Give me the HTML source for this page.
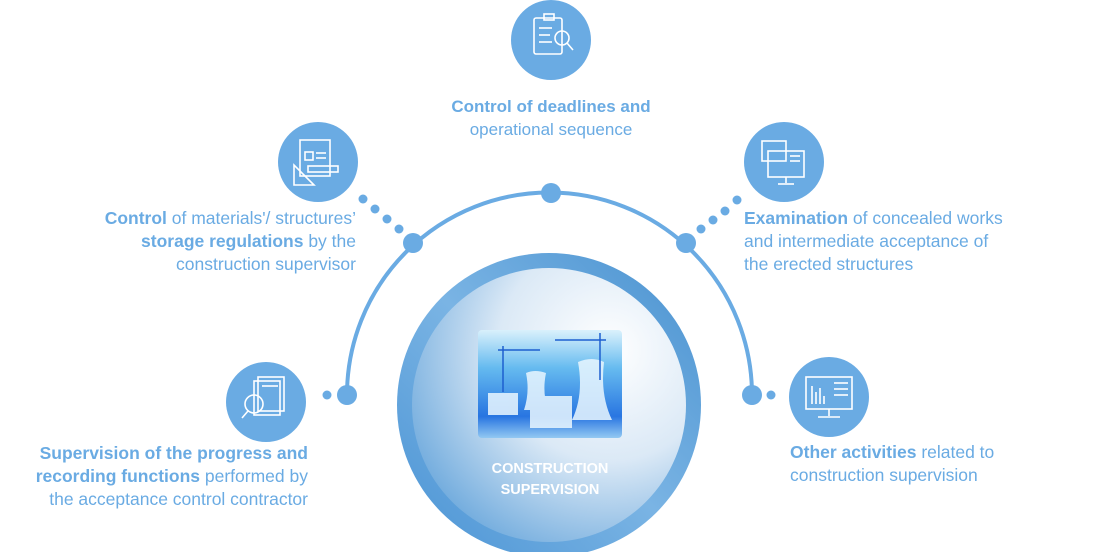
<!DOCTYPE html>
<html><head><meta charset="utf-8"><style>
html,body{margin:0;padding:0;background:#fff;}
body{width:1116px;height:552px;overflow:hidden;position:relative;font-family:"Liberation Sans","DejaVu Sans",sans-serif;}
.t{position:absolute;color:#6aabe3;font-size:17.5px;line-height:23px;}
.t b{font-weight:bold;}
</style></head><body>
<svg width="1116" height="552" style="position:absolute;left:0;top:0">
<defs>
<radialGradient id="cg" cx="0.72" cy="0.3" r="0.9">
<stop offset="0" stop-color="#ffffff"/><stop offset="0.45" stop-color="#dbe9f6"/><stop offset="1" stop-color="#5a9ed8"/>
</radialGradient>
<linearGradient id="rg" x1="0" y1="1" x2="1" y2="0">
<stop offset="0" stop-color="#4a93d4"/><stop offset="0.5" stop-color="#7ab4e4"/><stop offset="1" stop-color="#4a92d0"/>
</linearGradient>
<linearGradient id="ig" x1="0" y1="0" x2="0" y2="1">
<stop offset="0" stop-color="#d9f1fc"/><stop offset="0.35" stop-color="#5fb8ef"/><stop offset="0.8" stop-color="#1f6fe0"/><stop offset="1" stop-color="#8fc7f2"/>
</linearGradient>
</defs>
<path d="M347,395 A202,202 0 0 1 752,395" fill="none" stroke="#6aabe3" stroke-width="4"/>
<g fill="#6aabe3">
<circle cx="551" cy="193" r="10"/><circle cx="413" cy="243" r="10"/><circle cx="686" cy="243" r="10"/>
<circle cx="347" cy="395" r="10"/><circle cx="752" cy="395" r="10"/>
<circle cx="363" cy="199" r="4.5"/><circle cx="375" cy="209" r="4.5"/><circle cx="387" cy="219" r="4.5"/><circle cx="399" cy="229" r="4.5"/>
<circle cx="737" cy="200" r="4.5"/><circle cx="725" cy="211" r="4.5"/><circle cx="713" cy="220" r="4.5"/><circle cx="701" cy="229" r="4.5"/>
<circle cx="327" cy="395" r="4.5"/><circle cx="771" cy="395" r="4.5"/>
<circle cx="551" cy="40" r="40"/><circle cx="318" cy="162" r="40"/><circle cx="784" cy="162" r="40"/>
<circle cx="266" cy="402" r="40"/><circle cx="829" cy="397" r="40"/>
</g>
<g fill="none" stroke="#fff" stroke-width="1.6">
<rect x="534" y="18" width="28" height="36" rx="2"/><rect x="544" y="14" width="10" height="6"/><line x1="539" y1="28" x2="552" y2="28"/><line x1="539" y1="35" x2="550" y2="35"/><line x1="539" y1="42" x2="552" y2="42"/><circle cx="562" cy="38" r="7"/><line x1="567" y1="43" x2="573" y2="50"/>
<rect x="300" y="140" width="30" height="36"/><rect x="305" y="152" width="8" height="8"/><line x1="316" y1="153" x2="326" y2="153"/><line x1="316" y1="158" x2="326" y2="158"/><rect x="308" y="166" width="30" height="6"/><path d="M294,165 L294,185 L314,185 Z"/>
<rect x="762" y="141" width="24" height="20"/><rect x="768" y="151" width="36" height="26"/><line x1="786" y1="177" x2="786" y2="183"/><line x1="778" y1="184" x2="794" y2="184"/><line x1="790" y1="156" x2="800" y2="156"/><line x1="790" y1="161" x2="800" y2="161"/>
<rect x="254" y="381" width="26" height="34"/><rect x="258" y="377" width="26" height="34"/><circle cx="254" cy="404" r="9"/><line x1="248" y1="411" x2="242" y2="418"/><line x1="262" y1="386" x2="278" y2="386"/>
<rect x="806" y="377" width="46" height="32"/><line x1="829" y1="409" x2="829" y2="416"/><line x1="818" y1="417" x2="840" y2="417"/><path d="M812,404 V386 M816,404 V392 M820,404 V388 M824,404 V396"/><line x1="834" y1="383" x2="848" y2="383"/><line x1="834" y1="389" x2="848" y2="389"/><line x1="834" y1="395" x2="848" y2="395"/>
</g>
<circle cx="549" cy="405" r="152" fill="url(#rg)"/>
<circle cx="549" cy="405" r="137" fill="url(#cg)"/>
<rect x="478" y="330" width="144" height="108" fill="url(#ig)" rx="4" opacity="0.95"/>
<g fill="#eaf7ff" opacity="0.85">
<path d="M578,362 Q592,356 604,362 Q600,395 612,420 L572,420 Q584,395 578,362 Z"/>
<path d="M526,373 Q535,369 546,373 Q542,392 548,410 L524,410 Q530,392 526,373 Z"/>
<rect x="488" y="393" width="30" height="22"/><rect x="530" y="396" width="42" height="32"/>
</g>
<g stroke="#1d5fcf" stroke-width="1.5"><line x1="503" y1="346" x2="503" y2="392"/><line x1="498" y1="350" x2="540" y2="350"/><line x1="600" y1="333" x2="600" y2="380"/><line x1="555" y1="340" x2="606" y2="340"/></g>
</svg>
<div class="t" style="left:441px;top:95px;width:220px;text-align:center;font-size:17px"><b>Control of deadlines and</b><br>operational sequence</div>
<div class="t" style="left:40px;top:207px;width:316px;text-align:right"><b>Control</b> of materials'/ structures’<br><b>storage regulations</b> by the<br>construction supervisor</div>
<div class="t" style="left:744px;top:207px;width:330px"><b>Examination</b> of concealed works<br>and intermediate acceptance of<br>the erected structures</div>
<div class="t" style="left:0px;top:442px;width:308px;text-align:right"><b>Supervision of the progress and<br>recording functions</b> performed by<br>the acceptance control contractor</div>
<div class="t" style="left:790px;top:441px;width:320px"><b>Other activities</b> related to<br>construction supervision</div>
<div style="position:absolute;left:450px;top:459px;width:200px;text-align:center;color:#fff;font-weight:bold;font-size:14.5px;line-height:21px">CONSTRUCTION<br>SUPERVISION</div>
</body></html>
